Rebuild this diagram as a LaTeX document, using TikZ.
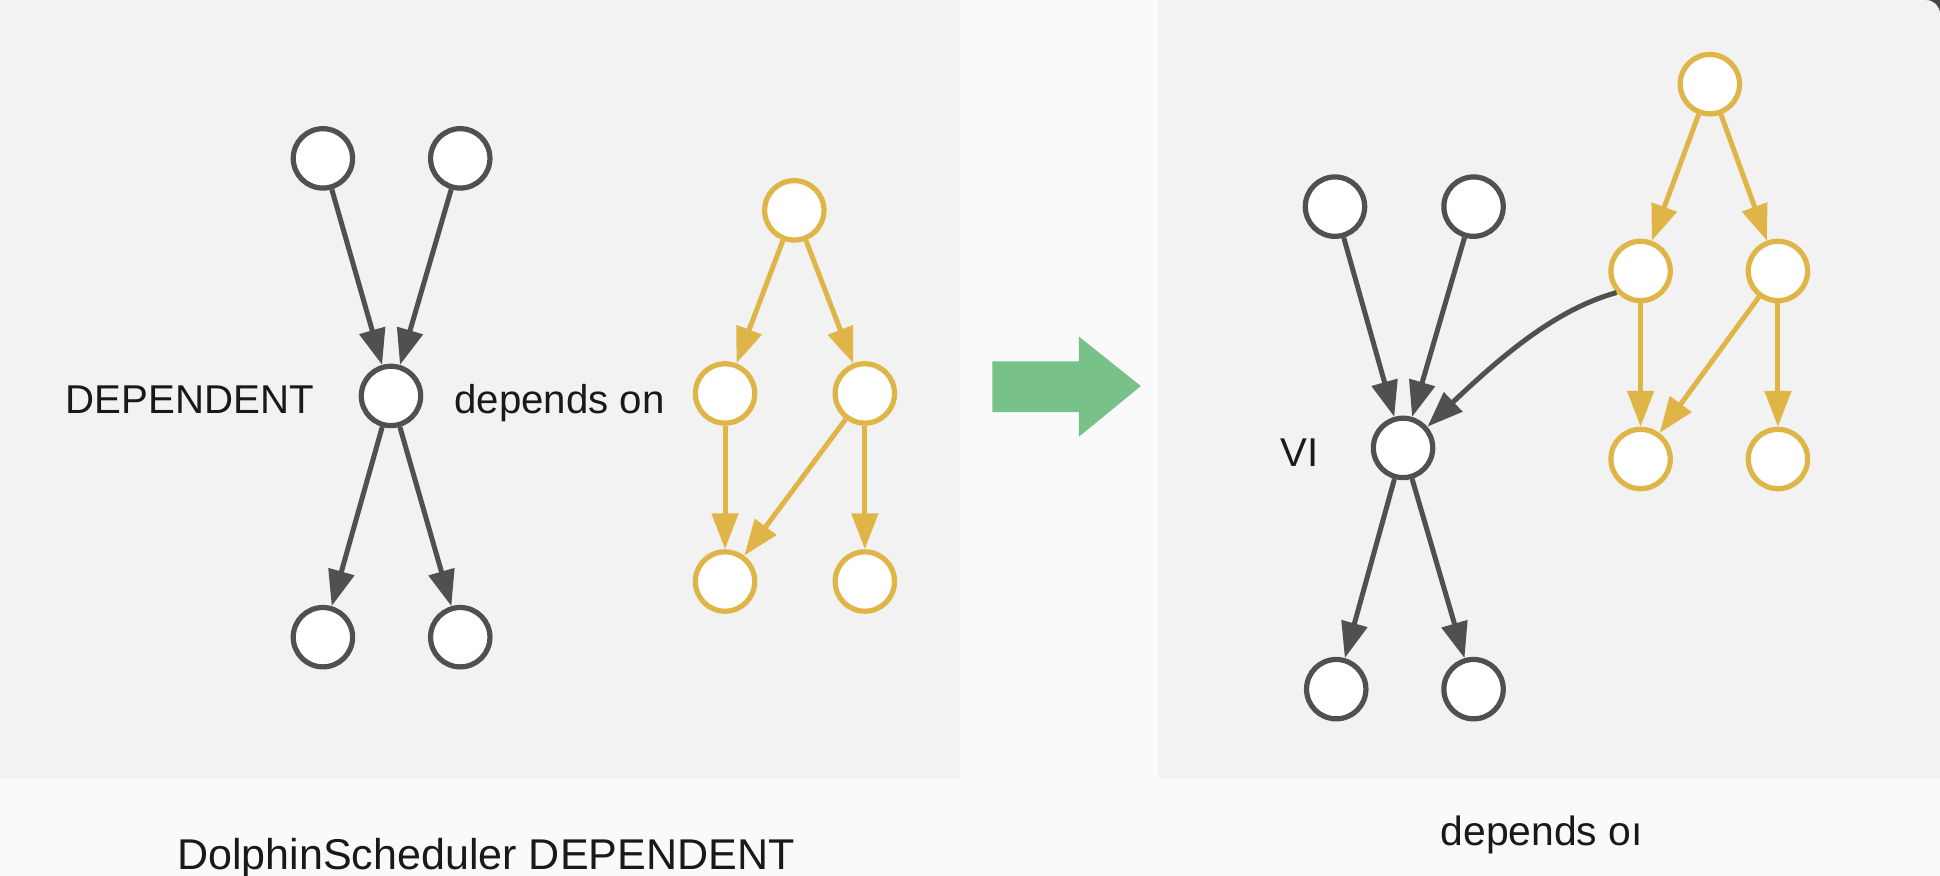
\documentclass[tikz,border=0pt]{standalone}
\usepackage{fontspec}
\setmainfont{Liberation Sans}
\usetikzlibrary{arrows.meta,bending}
\definecolor{panelbg}{RGB}{242,242,242}
\definecolor{pagebg}{RGB}{250,250,250}
\definecolor{nodegray}{RGB}{80,80,80}
\definecolor{gold}{RGB}{224,181,72}
\definecolor{arrowgreen}{RGB}{120,194,137}
\definecolor{txt}{RGB}{25,25,25}
\definecolor{cornerdark}{RGB}{70,70,70}
\begin{document}
\begin{tikzpicture}[x=0.02cm,y=-0.02cm,
  gnode/.style={circle,draw=nodegray,line width=2.4pt,fill=white,minimum size=0.96cm,inner sep=0pt},
  ynode/.style={gnode,draw=gold},
  garr/.style={draw=nodegray,line width=2.3pt,-{Triangle[length=0.58cm,width=0.42cm]}},
  yarr/.style={garr,draw=gold},
  lbl/.style={text=txt,inner sep=0pt,font=\fontsize{18.5}{22}\selectfont},
  caption/.style={text=txt,inner sep=0pt,font=\fontsize{19.8}{24}\selectfont}
]
\fill[pagebg] (0,0) rectangle (1568,708);
\useasboundingbox (0,0) rectangle (1568,708);
\fill[panelbg] (0,0) rectangle (776,629);
\fill[panelbg] (936,0) rectangle (1568,629);
\fill[cornerdark] (1557,0) -- (1568,0) -- (1568,11) arc[start angle=0,end angle=-90,radius=11] -- cycle;

% left panel: gray
\node[gnode] (l1) at (261,128) {};
\node[gnode] (l2) at (372,128) {};
\node[gnode] (lc) at (316,320) {};
\node[gnode] (l3) at (261,515) {};
\node[gnode] (l4) at (372,515) {};
% left panel: yellow
\node[ynode] (a0) at (642,170) {};
\node[ynode] (a1) at (586,318) {};
\node[ynode] (a2) at (699,318) {};
\node[ynode] (a3) at (586,470) {};
\node[ynode] (a4) at (699,470) {};

\draw[garr] (l1) -- (lc);
\draw[garr] (l2) -- (lc);
\draw[garr] (lc) -- (l3);
\draw[garr] (lc) -- (l4);
\draw[yarr] (a0) -- (a1);
\draw[yarr] (a0) -- (a2);
\draw[yarr] (a1) -- (a3);
\draw[yarr] (a2) -- (a3);
\draw[yarr] (a2) -- (a4);

\node[lbl,anchor=base east] (tdep) at (254,334) {DEPENDENT};
\node[lbl,anchor=base west] (ton) at (367,334) {depends on};

% green arrow
\fill[arrowgreen] (802,292) -- (872,292) -- (872,272) -- (922,312) -- (872,353) -- (872,333) -- (802,333) -- cycle;

% right panel: gray
\node[gnode] (r1) at (1079,167) {};
\node[gnode] (r2) at (1191,167) {};
\node[gnode] (rc) at (1134,362) {};
\node[gnode] (r3) at (1080,557) {};
\node[gnode] (r4) at (1191,557) {};
% right panel: yellow
\node[ynode] (b0) at (1382,68) {};
\node[ynode] (b1) at (1326,219) {};
\node[ynode] (b2) at (1437,219) {};
\node[ynode] (b3) at (1326,371) {};
\node[ynode] (b4) at (1437,371) {};

\draw[garr] (r1) -- (rc);
\draw[garr] (r2) -- (rc);
\draw[garr] (rc) -- (r3);
\draw[garr] (rc) -- (r4);
\draw[yarr] (b0) -- (b1);
\draw[yarr] (b0) -- (b2);
\draw[yarr] (b1) -- (b3);
\draw[yarr] (b2) -- (b3);
\draw[yarr] (b2) -- (b4);
\draw[garr] (b1.222) .. controls (1250,252) and (1200,300) .. (rc.41);

\node[lbl,anchor=base east] (tvi) at (1066,377) {VI};

% captions
\node[caption,anchor=base west] (cap1) at (143,703) {DolphinScheduler DEPENDENT};
\node[lbl,font=\fontsize{18.8}{22}\selectfont,anchor=base west] (cap2) at (1164,683) {depends oı};
\end{tikzpicture}
\end{document}
